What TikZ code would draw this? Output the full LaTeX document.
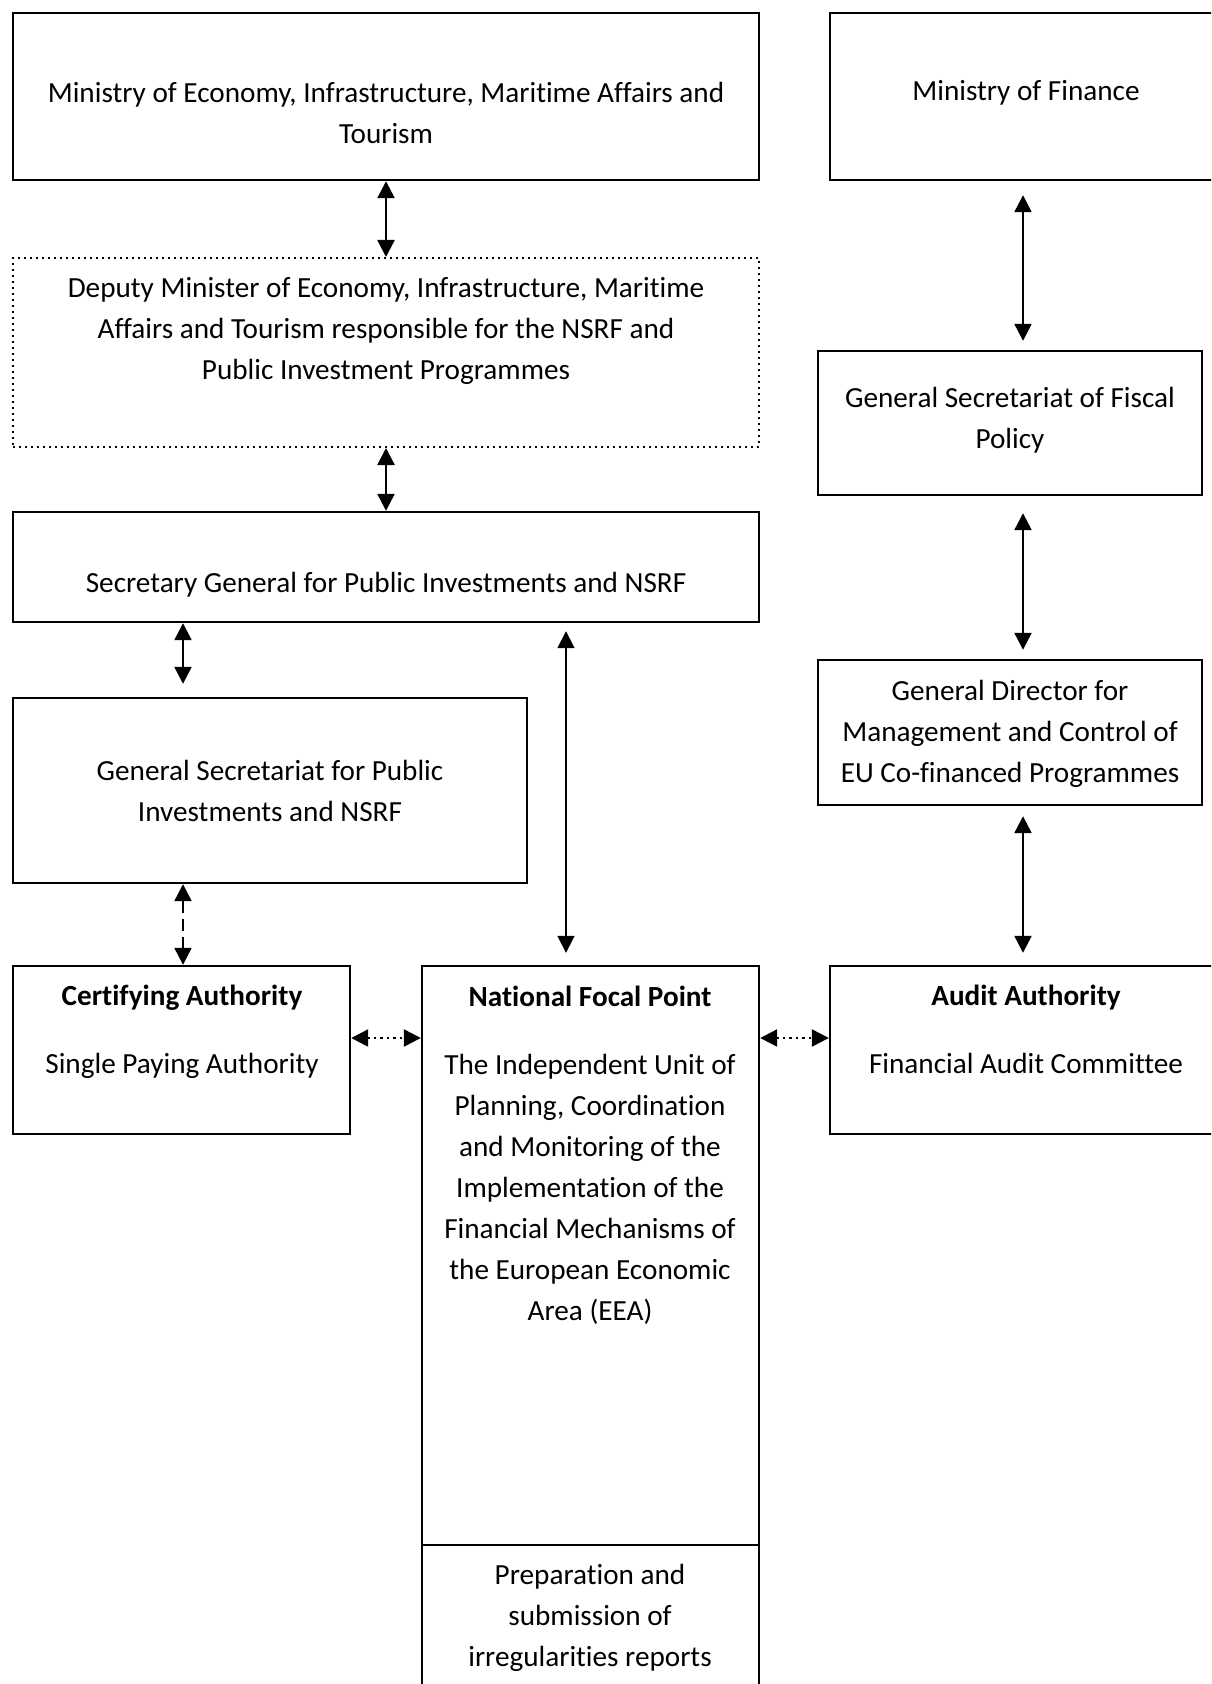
\documentclass[tikz,border=0pt]{standalone}
\usepackage{fontspec}
\setmainfont{Carlito}[RawFeature={-liga;-clig;-dlig}]
\usepackage{tikz}
\usetikzlibrary{arrows.meta, fit}

\tikzset{
	box/.style={draw, line width=1.2pt, inner sep=0pt},
	dotbox/.style={draw, dotted, line width=1pt, inner sep=0pt},
	txt/.style={align=center, inner sep=0pt, font=\fontsize{14.6pt}{20.5pt}\selectfont},
	link/.style={{Triangle[length=8.5pt,width=8.5pt]}-{Triangle[length=8.5pt,width=8.5pt]}, line width=1.2pt},
}

\begin{document}
\begin{tikzpicture}[x=0.5pt, y=-0.5pt]
		\clip (0,0) rectangle (1211,1684);
		% boxes
		\node[box, fit={(13,13) (759,180)}] (mecon) {};
		\node[box, fit={(830,13) (1230,180)}] (mof) {};
		\node[dotbox, fit={(13,258) (759,447)}] (deputy) {};
		\node[box, fit={(818,351) (1202,495)}] (gsfiscal) {};
		\node[box, fit={(13,512) (759,622)}] (secgen) {};
		\node[box, fit={(818,660) (1202,805)}] (gdmgmt) {};
		\node[box, fit={(13,698) (527,883)}] (gspublic) {};
		\node[box, fit={(13,966) (350,1134)}] (cert) {};
		\node[box, fit={(422,966) (759,1545)}] (nfp) {};
		\node[box, fit={(422,1545) (759,1700)}] (reports) {};
		\node[box, fit={(830,966) (1230,1134)}] (audit) {};

		% texts
		\node[txt] (meconT) at (386,113) {Ministry of Economy, Infrastructure, Maritime Affairs and\\Tourism};
		\node[txt] (mofT) at (1026,93) {Ministry of Finance};
		\node[txt] (deputyT) at (386,331) {Deputy Minister of Economy, Infrastructure, Maritime\\Affairs and Tourism responsible for the NSRF and\\Public Investment Programmes};
		\node[txt] (gsfiscalT) at (1010,420) {General Secretariat of Fiscal\\Policy};
		\node[txt] (secgenT) at (386,585) {Secretary General for Public Investments and NSRF};
		\node[txt] (gdmgmtT) at (1010,734) {General Director for\\Management and Control of\\EU Co-financed Programmes};
		\node[txt] (gspublicT) at (270,791) {General Secretariat for Public\\Investments and NSRF};
		\node[txt] (certT) at (182,1032) {\textbf{Certifying Authority}\\[13.5pt]Single Paying Authority};
		\node[txt] (nfpT) at (590,1155) {\textbf{National Focal Point}\\[13.5pt]The Independent Unit of\\Planning, Coordination\\and Monitoring of the\\Implementation of the\\Financial Mechanisms of\\the European Economic\\Area (EEA)};
		\node[txt] (auditT) at (1026,1029) {\textbf{Audit Authority}\\[13.5pt]Financial Audit Committee};
		\node[txt] (reportsT) at (590,1618) {Preparation and\\submission of\\irregularities reports};

		% columns and rows for the connectors
		\coordinate (colA) at (183,0);
		\coordinate (colB) at (566,0);
		\coordinate (colC) at (1023,0);
		\coordinate (dotrow) at (0,1038);

		\draw[link] (mecon.south) -- (deputy.north);
		\draw[link] (deputy.south) -- (secgen.north);
		\draw[link, shorten >=6.5pt] (secgen.south -| colA) -- (gspublic.north -| colA);
		\draw[link, dash pattern=on 6pt off 3pt] (gspublic.south -| colA) -- (cert.north -| colA);
		\draw[link, line width=0.9pt, shorten <=4pt, shorten >=6pt] (secgen.south -| colB) -- (nfp.north -| colB);
		\draw[link, dotted] (cert.east |- dotrow) -- (nfp.west |- dotrow);
		\draw[link, dotted] (nfp.east |- dotrow) -- (audit.west |- dotrow);
		\draw[link, shorten <=7pt, shorten >=4.5pt] (mof.south -| colC) -- (gsfiscal.north -| colC);
		\draw[link, shorten <=8.5pt, shorten >=4.5pt] (gsfiscal.south -| colC) -- (gdmgmt.north -| colC);
		\draw[link, shorten <=5pt, shorten >=6pt] (gdmgmt.south -| colC) -- (audit.north -| colC);
	\end{tikzpicture}
\end{document}
